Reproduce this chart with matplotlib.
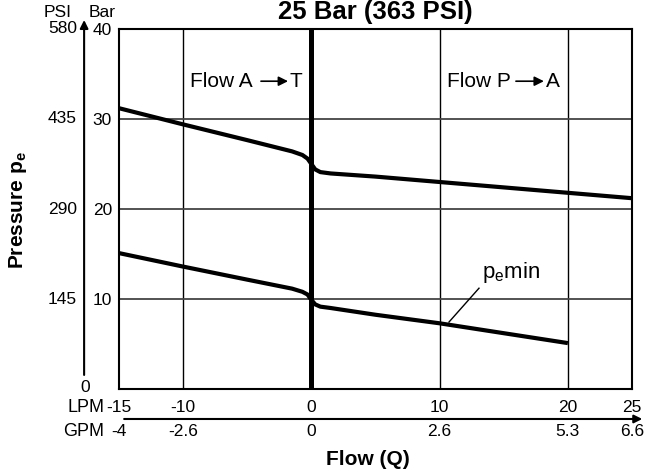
import numpy as np
import matplotlib
matplotlib.use('Agg')
import matplotlib.pyplot as plt

plt.rcParams['font.family'] = ['Liberation Sans', 'DejaVu Sans']
plt.rcParams['mathtext.fontset'] = 'custom'
plt.rcParams['mathtext.rm'] = 'Liberation Sans'
plt.rcParams['mathtext.bf'] = 'Liberation Sans:bold'

# 데이터
flow_upper = [-15, -10, -5, -1.5, -0.7, -0.3, 0, 0.3, 0.7, 1.5, 5, 10, 15, 20, 25]
p_upper = [31.2, 29.4, 27.65, 26.4, 26.0, 25.6, 25.0, 24.4, 24.1, 23.95, 23.6, 23.0, 22.4, 21.8, 21.2]
flow_lower = [-15, -10, -5, -1.5, -0.7, -0.3, 0, 0.3, 0.7, 1.5, 5, 10, 15, 20]
p_lower = [15.1, 13.6, 12.15, 11.15, 10.8, 10.5, 9.9, 9.4, 9.15, 9.0, 8.25, 7.3, 6.2, 5.1]

lpm_ticks = [-15, -10, 0, 10, 20, 25]
lpm_labels = ['-15', '-10', '0', '10', '20', '25']
gpm_labels = ['-4', '-2.6', '0', '2.6', '5.3', '6.6']
bar_ticks = [10, 20, 30, 40]
bar_labels = ['10', '20', '30', '40']
psi_labels = ['145', '290', '435', '580']

fig = plt.figure(figsize=(6.47, 4.74), dpi=100)
ax = fig.add_axes([119/647, 85/474, 513/647, 360/474])
ax.set_xlim(-15, 25)
ax.set_ylim(0, 40)

# 격자
for x in lpm_ticks[1:-1]:
    ax.axvline(x, color='black', lw=1.0, zorder=1)
for y in bar_ticks[:-1]:
    ax.axhline(y, color='#444444', lw=1.3, zorder=1)
ax.axvline(0, color='black', lw=3.6, zorder=2)

# 곡선
ax.plot(flow_upper, p_upper, color='black', lw=3, solid_capstyle='butt', zorder=3)
ax.plot(flow_lower, p_lower, color='black', lw=3, solid_capstyle='butt', zorder=3)

for s in ax.spines.values():
    s.set_linewidth(1.5)

# 축 라벨 (Bar)
ax.set_xticks([])
ax.set_yticks(bar_ticks)
ax.set_yticklabels(bar_labels, fontsize=12.5)
ax.tick_params(axis='y', length=0, pad=5)

# PSI 라벨
for y, lab in zip(bar_ticks, psi_labels):
    ax.text(-0.082, y, lab, transform=ax.get_yaxis_transform(), ha='right', va='center', fontsize=12.5)
ax.text(-0.066, 0.2, '0', transform=ax.get_yaxis_transform(), ha='center', va='center', fontsize=12.5)
ax.text(-0.119, 41.8, 'PSI', transform=ax.get_yaxis_transform(), ha='center', va='center', fontsize=12.5)
ax.text(-0.033, 41.8, 'Bar', transform=ax.get_yaxis_transform(), ha='center', va='center', fontsize=12.5)
ax.annotate('', xy=(-0.068, 41.0), xytext=(-0.068, 1.56),
            xycoords=ax.get_yaxis_transform(), textcoords=ax.get_yaxis_transform(),
            arrowprops=dict(arrowstyle='-|>', color='black', lw=1.5, mutation_scale=12,
                            shrinkA=0, shrinkB=0), annotation_clip=False)

# 유량 라벨
for x, l1, l2 in zip(lpm_ticks, lpm_labels, gpm_labels):
    ax.text(x, -0.05, l1, transform=ax.get_xaxis_transform(), ha='center', va='center', fontsize=12.5)
    ax.text(x, -0.119, l2, transform=ax.get_xaxis_transform(), ha='center', va='center', fontsize=12.5)
ax.text(-0.029, -0.05, 'LPM', transform=ax.transAxes, ha='right', va='center', fontsize=13)
ax.text(-0.029, -0.119, 'GPM', transform=ax.transAxes, ha='right', va='center', fontsize=13)
ax.annotate('', xy=(25.8, -0.0833), xytext=(-14.6, -0.0833),
            xycoords=ax.get_xaxis_transform(), textcoords=ax.get_xaxis_transform(),
            arrowprops=dict(arrowstyle='-|>', color='black', lw=1.5, mutation_scale=12,
                            shrinkA=0, shrinkB=0), annotation_clip=False)

ax.text(4.4, -0.197, 'Flow (Q)', transform=ax.get_xaxis_transform(), ha='center', va='center',
        fontsize=15, fontweight='bold')
fig.text(18/647, 1 - 210/474, r'Pressure p$_\mathbf{e}$', rotation=90, ha='center', va='center',
         fontsize=15, fontweight='bold')
fig.text(375/647, 1 - 19/474, '25 Bar (363 PSI)', ha='center', va='baseline',
         fontsize=18.5, fontweight='bold')

# 흐름 방향 표시
arrow_kw = dict(arrowstyle='-|>', color='black', lw=1.2, mutation_scale=14, shrinkA=0, shrinkB=0)
ax.text(-9.47, 34.2, 'Flow A', ha='left', va='center', fontsize=15)
ax.annotate('', xy=(-1.82, 34.2), xytext=(-3.93, 34.2), arrowprops=arrow_kw)
ax.text(-1.67, 34.2, 'T', ha='left', va='center', fontsize=15)
ax.text(10.57, 34.2, 'Flow P', ha='left', va='center', fontsize=15)
ax.annotate('', xy=(18.13, 34.2), xytext=(15.95, 34.2), arrowprops=arrow_kw)
ax.text(18.29, 34.2, 'A', ha='left', va='center', fontsize=15)

# p_e min 표시
ax.plot([13.07, 10.73], [11.2, 7.44], color='black', lw=1.0, zorder=4)
ax.text(13.3, 12.9, r'p$_\mathrm{e}$min', ha='left', va='center', fontsize=16)

fig.savefig('out.png', dpi=100)
